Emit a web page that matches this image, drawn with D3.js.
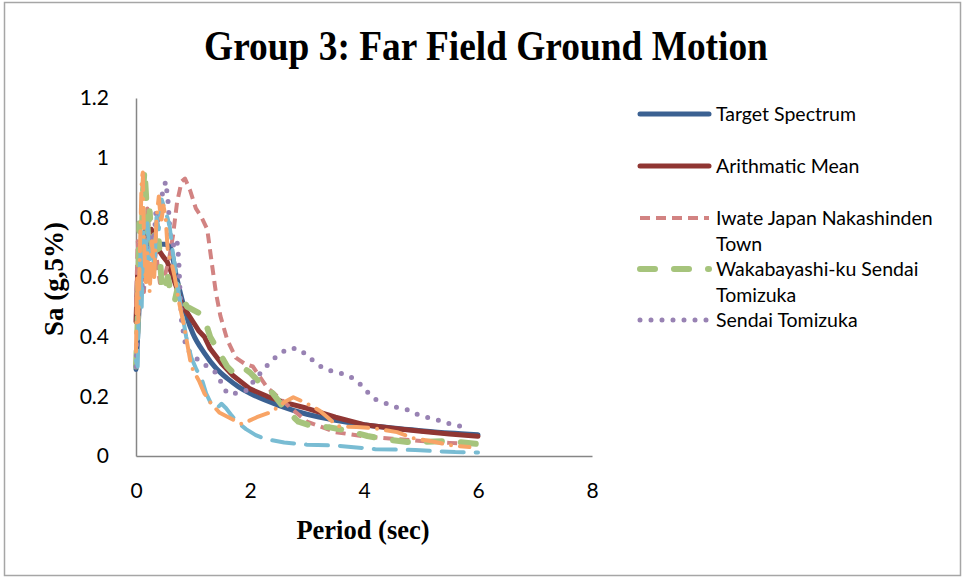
<!DOCTYPE html>
<html>
<head>
<meta charset="utf-8">
<script src="https://cdn.jsdelivr.net/npm/d3@7"></script>
<style>
  body { margin: 0; background: #fff; }
</style>
</head>
<body>
<div class="chart"></div>
<script>
var w = 963;
var h = 577;

// tick values
const xTicks = [0, 2, 4, 6, 8];
const yTicks = [0, 0.2, 0.4, 0.6, 0.8, 1, 1.2];

// series: [period (sec), Sa (g)]
const target = [[0,0.29],[0.05,0.48],[0.1,0.64],[0.13,0.71],[0.2,0.71],[0.3,0.71],[0.4,0.71],[0.5,0.71],[0.6,0.7],
  [0.7,0.61],[0.8,0.53],[0.9,0.46],[1.0,0.41],[1.2,0.345],[1.4,0.295],[1.6,0.26],[1.8,0.232],[2.0,0.21],
  [2.5,0.17],[3,0.14],[3.5,0.12],[4,0.105],[4.5,0.094],[5,0.085],[5.5,0.077],[6,0.071]];

const mean = [[0,0.45],[0.03,0.62],[0.06,0.57],[0.1,0.72],[0.13,0.66],[0.17,0.77],[0.22,0.72],[0.27,0.76],
  [0.33,0.7],[0.4,0.69],[0.47,0.67],[0.55,0.65],[0.63,0.61],[0.72,0.56],[0.8,0.51],[0.9,0.48],[1.0,0.45],
  [1.1,0.42],[1.2,0.4],[1.3,0.36],[1.5,0.31],[1.7,0.27],[2.0,0.225],[2.3,0.2],[2.6,0.18],[3.0,0.16],
  [3.5,0.13],[4.0,0.105],[4.5,0.093],[5.0,0.083],[5.5,0.074],[6.0,0.066]];

const iwate = [[0,0.5],[0.03,0.72],[0.06,0.6],[0.1,0.68],[0.14,0.55],[0.2,0.83],[0.25,0.7],[0.3,0.62],
  [0.35,0.68],[0.42,0.58],[0.5,0.6],[0.58,0.66],[0.65,0.74],[0.72,0.85],[0.8,0.92],[0.86,0.93],[0.95,0.89],
  [1.05,0.83],[1.15,0.8],[1.25,0.76],[1.32,0.66],[1.4,0.55],[1.48,0.47],[1.6,0.39],[1.75,0.33],[1.9,0.31],
  [2.05,0.3],[2.3,0.23],[2.6,0.18],[3.0,0.115],[3.5,0.08],[4.0,0.066],[4.5,0.058],[5.0,0.05],[5.5,0.044],[6.0,0.04]];

const waka = [[0,0.3],[0.03,0.45],[0.06,0.78],[0.09,0.62],[0.12,0.88],[0.15,0.96],[0.18,0.86],[0.21,0.74],
  [0.24,0.82],[0.28,0.7],[0.32,0.76],[0.36,0.66],[0.4,0.72],[0.45,0.58],[0.5,0.55],[0.56,0.6],[0.62,0.53],
  [0.68,0.52],[0.74,0.57],[0.8,0.53],[0.9,0.5],[1.0,0.49],[1.1,0.48],[1.2,0.46],[1.3,0.4],[1.45,0.35],
  [1.6,0.3],[1.7,0.28],[1.85,0.3],[2.0,0.28],[2.15,0.25],[2.4,0.21],[2.6,0.16],[2.85,0.115],[3.1,0.1],
  [3.4,0.096],[3.7,0.085],[4.06,0.067],[4.4,0.055],[4.76,0.047],[5.1,0.048],[5.5,0.05],[6.0,0.04]];

const sendai = [[0,0.3],[0.04,0.5],[0.08,0.62],[0.12,0.55],[0.16,0.7],[0.2,0.6],[0.25,0.75],[0.3,0.68],
  [0.35,0.82],[0.4,0.78],[0.45,0.87],[0.52,0.92],[0.56,0.86],[0.6,0.74],[0.67,0.7],[0.72,0.72],[0.75,0.66],
  [0.77,0.56],[0.8,0.45],[0.88,0.36],[1.1,0.32],[1.4,0.28],[1.6,0.21],[1.77,0.21],[1.94,0.22],[2.1,0.26],
  [2.33,0.31],[2.5,0.34],[2.67,0.36],[2.85,0.36],[3.02,0.335],[3.16,0.31],[3.33,0.29],[3.54,0.28],[3.72,0.27],
  [3.89,0.25],[4.03,0.22],[4.2,0.19],[4.38,0.177],[4.57,0.163],[4.76,0.155],[4.95,0.138],[5.15,0.127],
  [5.35,0.118],[5.54,0.106],[5.74,0.098]];

const aqua = [[0,0.32],[0.03,0.3],[0.05,0.55],[0.08,0.68],[0.1,0.5],[0.13,0.75],[0.16,0.6],[0.2,0.78],
  [0.24,0.66],[0.28,0.72],[0.32,0.62],[0.36,0.8],[0.4,0.76],[0.45,0.86],[0.5,0.83],[0.55,0.8],[0.59,0.77],
  [0.64,0.69],[0.73,0.57],[0.8,0.49],[0.88,0.4],[0.97,0.33],[1.06,0.29],[1.15,0.26],[1.23,0.21],[1.33,0.17],
  [1.42,0.16],[1.5,0.175],[1.58,0.16],[1.68,0.135],[1.8,0.11],[1.93,0.09],[2.1,0.07],[2.27,0.057],[2.6,0.045],
  [3.0,0.038],[3.5,0.035],[4.2,0.023],[4.9,0.02],[5.6,0.013],[6.0,0.012]];

const orange = [[0,0.35],[0.02,0.6],[0.04,0.45],[0.07,0.7],[0.1,0.93],[0.12,0.95],[0.14,0.72],[0.17,0.58],
  [0.2,0.68],[0.24,0.55],[0.28,0.72],[0.32,0.6],[0.36,0.8],[0.4,0.87],[0.44,0.78],[0.48,0.84],[0.52,0.8],
  [0.56,0.68],[0.62,0.65],[0.68,0.6],[0.75,0.52],[0.85,0.43],[0.97,0.3],[1.11,0.25],[1.2,0.21],[1.3,0.18],
  [1.46,0.146],[1.68,0.124],[1.86,0.107],[2.12,0.13],[2.38,0.148],[2.6,0.18],[2.76,0.197],[2.99,0.177],
  [3.23,0.151],[3.54,0.1],[3.87,0.097],[4.18,0.093],[4.58,0.08],[4.86,0.06],[5.16,0.05],[5.57,0.034],[5.85,0.03]];

// line styles for each series, in drawing order
const styles = [
  {data: target, color: "#3b6192", width: 5, dash: null, cap: "round", smooth: true},
  {data: mean,   color: "#903633", width: 5, dash: null, cap: "round", smooth: false},
  {data: iwate,  color: "#d28382", width: 4, dash: "10,6", cap: "butt", smooth: false},
  {data: waka,   color: "#a6c47c", width: 6, dash: "15,19", cap: "round", smooth: false},
  {data: sendai, color: "#9882b3", width: 5, dash: "0,11", cap: "round", smooth: false},
  {data: aqua,   color: "#79bcd3", width: 4, dash: "22,12", cap: "round", smooth: false},
  {data: orange, color: "#f8a466", width: 4, dash: "20,9,0,9", cap: "round", smooth: false}
];

var svg = d3.select(".chart")
  .append("svg")
  .attr("width", w)
  .attr("height", h);

// outer chart border
svg.append("rect")
  .attr("x", 4.5).attr("y", 2.5)
  .attr("width", 956).attr("height", 573)
  .attr("fill", "#fff")
  .attr("stroke", "#a6a6a6")
  .attr("stroke-width", 1.5);

const x = d3.scaleLinear().domain([0, 8]).range([136, 592]);
const y = d3.scaleLinear().domain([0, 1.2]).range([456, 98]);

const serif = "'Liberation Serif', 'Times New Roman', serif";
const sans = "Lato, 'Open Sans', sans-serif";

// title (the original is a little condensed)
svg.append("text")
  .attr("transform", "translate(486,60) scale(0.89,1)")
  .attr("text-anchor", "middle")
  .style("font-family", serif)
  .style("font-weight", "bold")
  .style("font-size", "42px")
  .text("Group 3: Far Field Ground Motion");

// axes
const xAxis = svg.append("g")
  .attr("transform", `translate(0,${y(0)})`)
  .call(d3.axisBottom(x).tickValues(xTicks).tickSize(0).tickPadding(27).tickFormat(d3.format("")));

const yAxis = svg.append("g")
  .attr("transform", `translate(${x(0)},0)`)
  .call(d3.axisLeft(y).tickValues(yTicks).tickSize(0).tickPadding(27).tickFormat(d3.format("")));

[xAxis, yAxis].forEach(a => {
  a.select(".domain").attr("stroke", "#868686").attr("stroke-width", 1.5);
  a.selectAll("text")
    .style("font-family", sans)
    .style("font-size", "21px")
    .attr("fill", "#000");
});

// axis titles
svg.append("text")
  .attr("x", 363).attr("y", 539)
  .attr("text-anchor", "middle")
  .style("font-family", serif)
  .style("font-weight", "bold")
  .style("font-size", "26.5px")
  .text("Period (sec)");

svg.append("text")
  .attr("transform", "translate(63,279) rotate(-90)")
  .attr("text-anchor", "middle")
  .style("font-family", serif)
  .style("font-weight", "bold")
  .style("font-size", "27px")
  .text("Sa (g,5%)");

// series lines
const g = svg.append("g");
styles.forEach(s => {
  const line = d3.line()
    .x(d => x(d[0]))
    .y(d => y(d[1]))
    .curve(s.smooth ? d3.curveMonotoneX : d3.curveLinear);
  g.append("path")
    .datum(s.data)
    .attr("fill", "none")
    .attr("stroke", s.color)
    .attr("stroke-width", s.width)
    .attr("stroke-linecap", s.cap)
    .attr("stroke-linejoin", "round")
    .attr("stroke-dasharray", s.dash)
    .attr("d", line);
});

// legend (only the first five series are listed)
const legendRows = [
  {i: 0, y: 114, lines: ["Target Spectrum"]},
  {i: 1, y: 166, lines: ["Arithmatic Mean"]},
  {i: 2, y: 218, lines: ["Iwate Japan Nakashinden", "Town"]},
  {i: 3, y: 269, lines: ["Wakabayashi-ku Sendai", "Tomizuka"]},
  {i: 4, y: 320, lines: ["Sendai Tomizuka"]}
];
const legend = svg.append("g");
legendRows.forEach(r => {
  const s = styles[r.i];
  legend.append("line")
    .attr("x1", 640).attr("x2", 709)
    .attr("y1", r.y).attr("y2", r.y)
    .attr("stroke", s.color)
    .attr("stroke-width", s.width)
    .attr("stroke-linecap", s.cap)
    .attr("stroke-dasharray", s.dash);
  r.lines.forEach((t, k) => {
    legend.append("text")
      .attr("x", 716).attr("y", r.y + k * 26)
      .attr("dy", "0.35em")
      .style("font-family", sans)
      .style("font-size", "19.5px")
      .text(t);
  });
});
</script>
</body>
</html>
